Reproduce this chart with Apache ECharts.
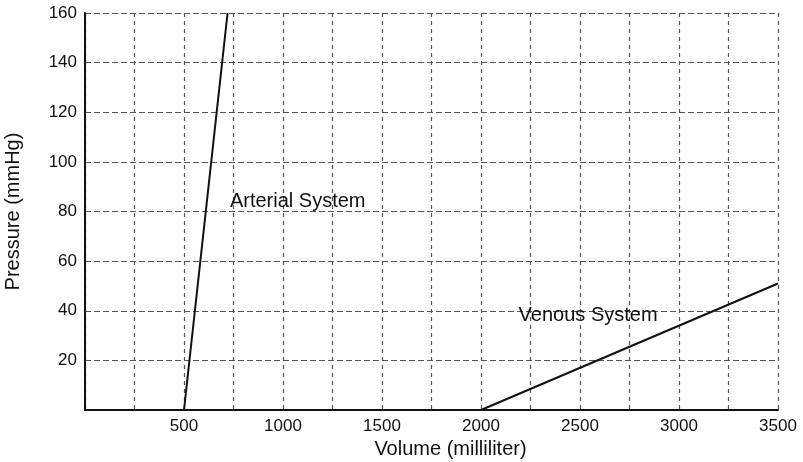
<!DOCTYPE html>
<html>
<head>
<meta charset="utf-8">
<title>Pressure–Volume Curves</title>
<script src="https://cdn.jsdelivr.net/npm/echarts@6/dist/echarts.min.js"></script>
<style>
  html, body { margin: 0; padding: 0; background: #fff; }
  #chart { width: 803px; height: 462px; }
</style>
</head>
<body>
<div id="chart"></div>
<script>
// Pressure–volume relation of the arterial and venous systems
const arterialVolume = [500, 720];
const arterialPressure = [0, 160];
const venousVolume = [2000, 3500];
const venousPressure = [0, 51];

// Curve captions, placed in data coordinates
const captionText = ['Arterial System', 'Venous System'];
const captionVolume = [732, 2190];
const captionPressure = [84, 38];

const font = '"Liberation Sans", Arial, Helvetica, sans-serif';
const ink = '#111';
const gridInk = '#555';

const pairs = (xs, ys) => xs.map((x, i) => [x, ys[i]]);

const chart = echarts.init(document.getElementById('chart'), null, { renderer: 'canvas' });

chart.setOption({
  animation: false,
  backgroundColor: '#fff',
  grid: { left: 85, right: 25, top: 13, bottom: 52, containLabel: false, outerBoundsMode: 'none' },
  xAxis: {
    type: 'value',
    min: 0,
    max: 3500,
    interval: 250,
    name: 'Volume (milliliter)',
    nameLocation: 'middle',
    nameGap: 22,
    nameTextStyle: { fontFamily: font, fontSize: 20, color: ink, padding: [0, 0, 0, 38] },
    axisLine: { show: true, lineStyle: { color: ink, width: 2 } },
    axisTick: { show: false },
    axisLabel: {
      margin: 8,
      fontFamily: font,
      fontSize: 17,
      color: ink,
      formatter: v => (v > 0 && v % 500 === 0 ? String(v) : '')
    },
    splitLine: { show: true, lineStyle: { color: gridInk, width: 1.2, type: [4, 4] } }
  },
  yAxis: {
    type: 'value',
    min: 0,
    max: 160,
    interval: 20,
    name: 'Pressure (mmHg)',
    nameLocation: 'middle',
    nameGap: 62,
    nameTextStyle: { fontFamily: font, fontSize: 20, color: ink },
    axisLine: { show: true, lineStyle: { color: ink, width: 2 } },
    axisTick: { show: false },
    axisLabel: {
      margin: 8,
      fontFamily: font,
      fontSize: 17,
      color: ink,
      formatter: v => (v > 0 ? String(v) : '')
    },
    splitLine: { show: true, lineStyle: { color: gridInk, width: 1.2, type: [6, 3] } }
  },
  series: [
    {
      name: 'Arterial System',
      type: 'line',
      data: pairs(arterialVolume, arterialPressure),
      showSymbol: false,
      lineStyle: { color: ink, width: 2 },
      z: 3
    },
    {
      name: 'Venous System',
      type: 'line',
      data: pairs(venousVolume, venousPressure),
      showSymbol: false,
      lineStyle: { color: ink, width: 2 },
      z: 3
    },
    {
      name: 'captions',
      type: 'scatter',
      symbolSize: 0,
      itemStyle: { opacity: 1 },
      data: captionText.map((t, i) => ({ value: [captionVolume[i], captionPressure[i]], name: t })),
      label: {
        show: true,
        position: 'right',
        distance: 0,
        opacity: 1,
        formatter: p => p.name,
        fontFamily: font,
        fontSize: 20,
        color: ink
      },
      silent: true,
      z: 4
    }
  ]
});
</script>
</body>
</html>
